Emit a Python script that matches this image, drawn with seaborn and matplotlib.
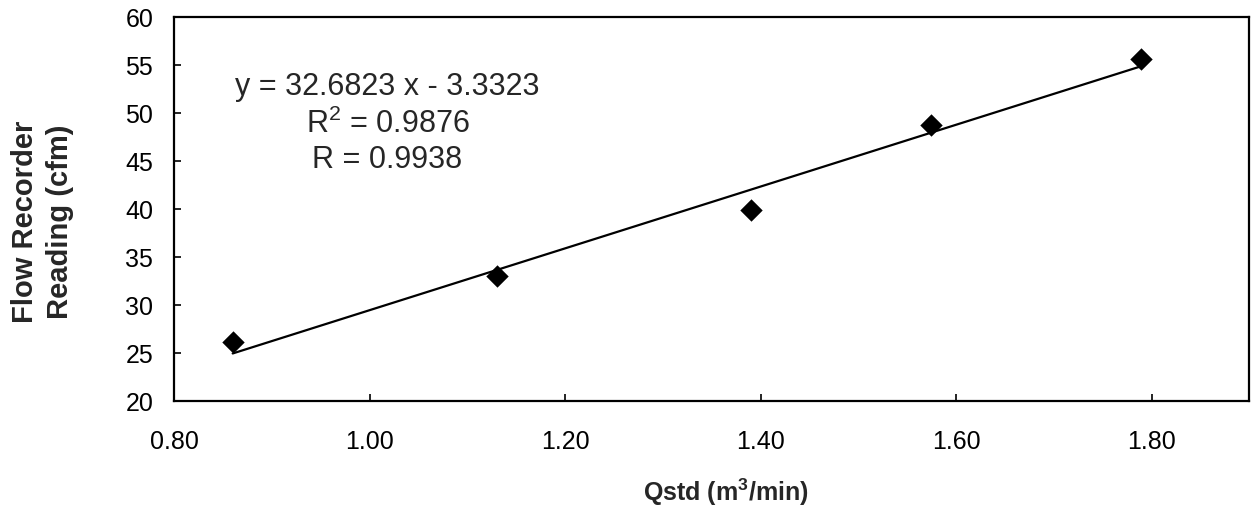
import matplotlib
matplotlib.use("Agg")
import matplotlib.pyplot as plt
import seaborn as sns
import pandas as pd

# calibration points
qstd = [0.86, 1.13, 1.39, 1.574, 1.789]
flow_reading = [26.1, 33.0, 39.9, 48.75, 55.6]

x_ticks = [0.80, 1.00, 1.20, 1.40, 1.60, 1.80]
y_ticks = [20, 25, 30, 35, 40, 45, 50, 55, 60]

eq_lines = ["y = 32.6823 x - 3.3323", "R$^2$ = 0.9876", "R = 0.9938"]

sns.set_style("ticks")
plt.rcParams['font.family'] = ['Liberation Sans', 'DejaVu Sans']
plt.rcParams['mathtext.fontset'] = 'custom'
plt.rcParams['mathtext.rm'] = 'Liberation Sans'
plt.rcParams['mathtext.bf'] = 'Liberation Sans:bold'

df = pd.DataFrame({'qstd': qstd, 'reading': flow_reading})

fig = plt.figure(figsize=(12.52, 5.10), dpi=100)
ax = fig.add_axes([0.139, 0.212, 0.859, 0.753])

sns.regplot(data=df, x='qstd', y='reading', ax=ax, ci=None,
            marker='D', color='black',
            scatter_kws={'s': 130, 'linewidths': 0, 'alpha': 1},
            line_kws={'linewidth': 1.6})

ax.set_xlim(0.80, 1.90)
ax.set_ylim(20, 60)
ax.set_xticks(x_ticks)
ax.set_xticklabels([f"{v:.2f}" for v in x_ticks])
ax.set_yticks(y_ticks)
ax.tick_params(direction='in', length=5, width=1.2, labelsize=18, colors='black')
ax.tick_params(axis='x', pad=20)
ax.tick_params(axis='y', pad=15)

for side in ['top', 'right', 'left', 'bottom']:
    ax.spines[side].set_visible(True)
    ax.spines[side].set_linewidth(1.6)
    ax.spines[side].set_color('black')

ax.set_xlabel("Qstd (m$^\\mathbf{3}$/min)", fontsize=18, fontweight='bold')
ax.xaxis.set_label_coords(0.513, -0.195)
ax.set_ylabel("Flow Recorder\nReading (cfm)", fontsize=21, fontweight='bold',
              linespacing=1.3)
ax.yaxis.set_label_coords(-0.093, 0.47)

ax.text(0.1985, 0.724, "\n".join(eq_lines), transform=ax.transAxes,
        ha='center', va='center', fontsize=22, linespacing=1.25)

fig.savefig("out.png", dpi=100)
